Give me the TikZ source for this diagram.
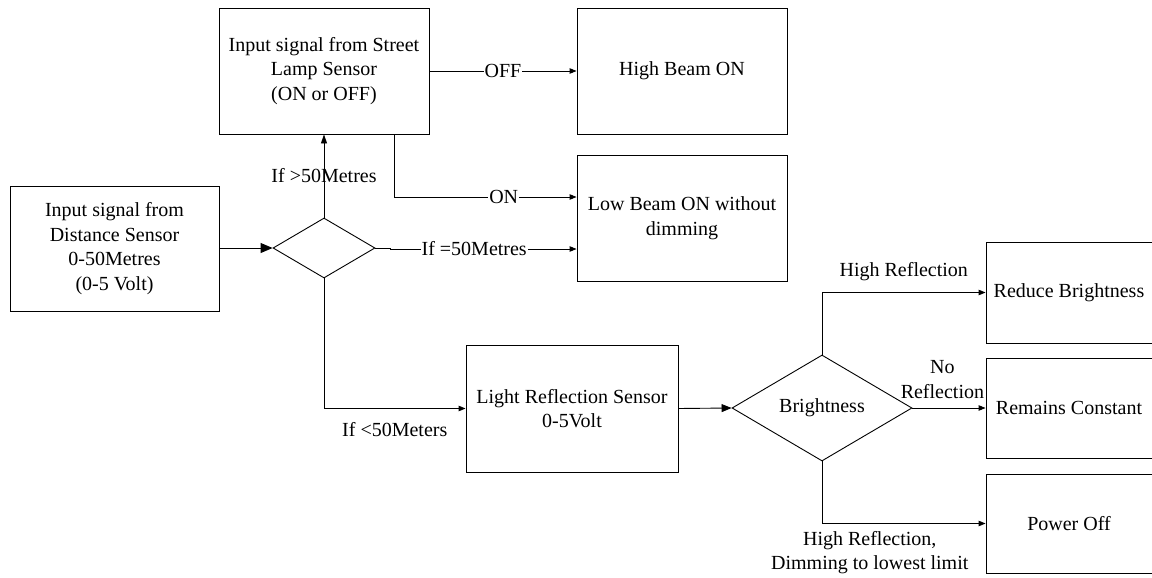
\documentclass[tikz,border=0pt]{standalone}
\usepackage{fontspec}
\setmainfont{Liberation Serif}
\usetikzlibrary{arrows.meta,shapes.geometric,calc}

\begin{document}
\begin{tikzpicture}[x=1pt,y=-1pt,
  every node/.style={font=\fontsize{20}{24.5}\selectfont, inner sep=0pt},
  box/.style={draw, line width=0.9pt, align=center},
  decision/.style={draw, diamond, line width=0.9pt, align=center},
  conn/.style={line width=0.9pt, -{Triangle[length=7pt,width=5.5pt]}},
  lbl/.style={fill=white, inner xsep=1pt, inner ysep=2pt},
  free/.style={align=center}
]
\useasboundingbox (0,0) rectangle (1152,578);

% boxes: centre, width, height in pixel units
\node[box, minimum width=210, minimum height=126] (street) at (324,71)
  {Input signal from Street\\Lamp Sensor\\(ON or OFF)};
\node[box, minimum width=210, minimum height=126] (high) at (682,71) {High Beam ON};
\node[box, minimum width=210, minimum height=126] (low) at (682,218)
  {Low Beam ON without\\dimming};
\node[box, minimum width=209, minimum height=125] (dist) at (114.5,248.5)
  {Input signal from\\Distance Sensor\\0-50Metres\\(0-5 Volt)};
\node[box, minimum width=212, minimum height=127] (light) at (572,408.5)
  {Light Reflection Sensor\\0-5Volt};
\node[box, minimum width=166, minimum height=101] (reduce) at (1069,292.5) {Reduce Brightness};
\node[box, minimum width=166, minimum height=100] (remains) at (1069,408) {Remains Constant};
\node[box, minimum width=166, minimum height=99] (power) at (1069,523.5) {Power Off};

% decision diamonds
\node[decision, minimum width=102, minimum height=60] (d1) at (324,248) {};
\node[decision, minimum width=180, minimum height=106, aspect=1.7] (d2) at (822,408) {Brightness};

% distance sensor branches
\draw[line width=0.9pt, -{Triangle[length=12pt,width=10pt]}] (dist.east |- d1.west) -- (d1.west);
\draw[conn, -{Triangle[length=9pt,width=6pt]}] (d1.north) -- node[pos=0.5]{If >50Metres} (street.south);
\draw[conn] (d1.east) -- ++(15,0) -- ++(0,1) -- node[lbl, pos=0.45]{If =50Metres} ($(low.west)+(0,31)$);
\draw[conn] (d1.south) |- node[pos=0.75, yshift=-21pt]{If <50Meters} (light.west);

% street lamp branches
\draw[conn] (street.east) -- node[lbl]{OFF} (high.west);
\draw[conn] ($(street.south east)+(-35,0)$) |- node[lbl, pos=0.8]{ON} ($(low.west)+(0,-21)$);

% brightness branches
\draw[line width=0.9pt, -{Triangle[length=10pt,width=8pt]}] (light.east) -- (d2.west);
\draw[conn] (d2.north) |- node[pos=0.75, yshift=21pt]{High Reflection} (reduce.west);
\draw[conn] (d2.east) -- node[free, pos=0.41, yshift=28.5pt]{No\\Reflection} (remains.west);
\draw[conn] (d2.south) |- node[free, pos=0.646, yshift=-29pt]{High Reflection,\\Dimming to lowest limit} (power.west);
\end{tikzpicture}
\end{document}
